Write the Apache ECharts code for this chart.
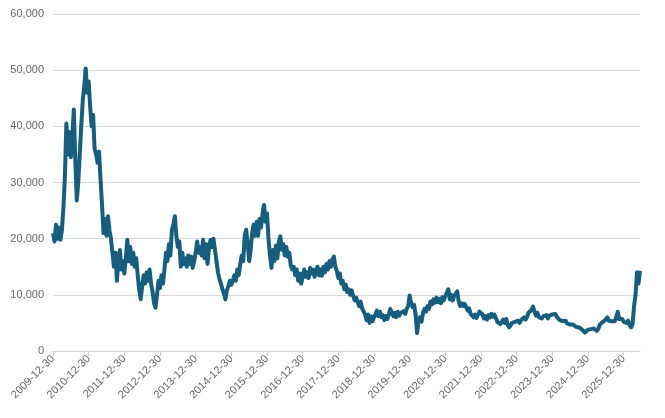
<!DOCTYPE html>
<html>
<head>
<meta charset="utf-8">
<script src="https://cdn.jsdelivr.net/npm/echarts@6/dist/echarts.min.js"></script>
<style>
	html, body { margin: 0; padding: 0; background: #fff; }
	#chart { width: 665px; height: 418px; }
</style>
</head>
<body>
<div id="chart"></div>
<script>
// semimonthly readings, 2009-12-30 .. 2026-06-15
var v2009 = [21000];
var v2010 = [19500, 22500, 20000, 22000, 19800, 21500, 25500, 31000, 40500, 35000, 39000, 34500,
	38000, 43000, 34000, 26800, 30000, 35000, 40000, 44500, 47000, 50300, 46000, 48000];
var v2011 = [43500, 40000, 42000, 36000, 35000, 33500, 35500, 30500, 26000, 21000, 23500, 20500,
	24000, 21500, 20000, 17500, 15000, 17500, 12500, 16000, 18000, 14500, 16000, 13800];
var v2012 = [16500, 19800, 16000, 18500, 15500, 17500, 15000, 16500, 13500, 11000, 9200, 11500,
	13500, 12000, 14000, 12500, 14500, 12000, 10500, 8500, 7700, 10000, 12500, 11200];
var v2013 = [13500, 12000, 14500, 17500, 16000, 19000, 17000, 21500, 22500, 24000, 20500, 18500,
	19500, 15000, 17500, 15500, 16500, 15000, 17000, 15500, 16800, 14800, 16000, 17500];
var v2014 = [19500, 17500, 18500, 17000, 19800, 16500, 19000, 15500, 18500, 19800, 18500, 20000,
	18000, 16000, 14000, 12800, 12000, 11000, 10200, 9200, 10800, 11500, 12500, 11800];
var v2015 = [12500, 13500, 12500, 14500, 13500, 15500, 17000, 16000, 20500, 21600, 19000, 16000,
	18000, 21000, 22500, 20500, 23000, 20500, 23500, 22000, 24500, 26000, 23000, 24500];
var v2016 = [20000, 17000, 14800, 18000, 16000, 18800, 16500, 19500, 20400, 18000, 19000, 17000,
	18500, 16800, 17500, 15200, 14500, 15000, 13500, 14500, 12500, 13800, 12000, 13300];
var v2017 = [14500, 13200, 14000, 13000, 14800, 13800, 14500, 13200, 14200, 15000, 13500, 14500,
	13400, 15000, 14000, 15500, 14500, 16000, 15000, 16300, 16800, 15000, 14200, 13000];
var v2018 = [13800, 12000, 12500, 11000, 11800, 10500, 11000, 10000, 10800, 9800, 9000, 9500,
	8700, 8000, 8800, 7600, 7800, 6500, 5500, 6500, 5000, 6200, 5300, 6000];
var v2019 = [6500, 7200, 6200, 7000, 6000, 6400, 5500, 6200, 5700, 6500, 7500, 6800,
	6200, 6800, 6000, 7000, 6300, 6800, 6500, 7100, 6600, 7500, 8000, 9900];
var v2020 = [8500, 7800, 8200, 6500, 3200, 5500, 6000, 5200, 6800, 7500, 7000, 8000,
	7500, 8800, 8300, 9200, 8600, 9500, 8700, 9300, 8500, 9600, 9000, 9800];
var v2021 = [10000, 11000, 9200, 10000, 9000, 9800, 9500, 10600, 8800, 8000, 8500, 8000,
	8400, 7800, 7200, 7600, 6600, 6800, 6000, 6500, 5900, 6500, 7000, 7300];
var v2022 = [6500, 5800, 6200, 5600, 6400, 6000, 6600, 6100, 6500, 5900, 5200, 5500,
	4800, 5200, 5600, 5000, 5700, 4600, 4200, 4500, 5000, 4700, 5200, 4900];
var v2023 = [5400, 5000, 5500, 5300, 6000, 5600, 6100, 6800, 6500, 7300, 7900, 7000,
	6300, 6800, 6000, 6300, 5800, 6200, 6000, 6400, 5800, 6300, 6000, 6500];
var v2024 = [6200, 6600, 6100, 5800, 5500, 5700, 5300, 5100, 5400, 4900, 5000, 4700,
	4500, 4700, 4400, 4300, 4000, 4200, 3900, 3800, 3500, 3300, 3600, 3800];
var v2025 = [3700, 3900, 3600, 4000, 3800, 3600, 4000, 4700, 4500, 5200, 5000, 5600,
	6000, 5400, 5100, 5300, 5600, 5300, 6000, 7000, 5700, 5400, 5700, 5200];
var v2026 = [5500, 5000, 5400, 4600, 4200, 4800, 8000, 10000, 14000, 12000, 14300];

var values = [].concat(v2009, v2010, v2011, v2012, v2013, v2014, v2015, v2016, v2017,
	v2018, v2019, v2020, v2021, v2022, v2023, v2024, v2025, v2026);

// category labels: the 15th and the 30th (28th in Feb) of every month
var dates = ['2009-12-30'];
for (var y = 2010; dates.length < values.length; y++) {
	for (var m = 1; m <= 12 && dates.length < values.length; m++) {
		var mm = (m < 10 ? '0' : '') + m;
		dates.push(y + '-' + mm + '-15');
		if (dates.length < values.length) dates.push(y + '-' + mm + '-' + (m === 2 ? '28' : '30'));
	}
}

function isYearTick(idx, val) {
	return /-12-30$/.test(val);
}

var chart = echarts.init(document.getElementById('chart'));
chart.setOption({
	animation: false,
	textStyle: { fontFamily: 'Liberation Sans, Arial, sans-serif' },
	grid: { left: 53, right: 25, top: 14, bottom: 67, containLabel: false },
	xAxis: {
		type: 'category',
		boundaryGap: false,
		data: dates,
		axisLine: { lineStyle: { color: '#d0d0d0', width: 1 } },
		axisTick: { interval: isYearTick, length: 5, lineStyle: { color: '#d0d0d0' } },
		axisLabel: { interval: isYearTick, rotate: 45, color: '#666', fontSize: 11, margin: 6 },
		splitLine: { show: false }
	},
	yAxis: {
		type: 'value',
		min: 0,
		max: 60000,
		interval: 10000,
		axisLine: { show: false },
		axisTick: { show: false },
		axisLabel: {
			color: '#666', fontSize: 11, margin: 9,
			formatter: function (v) { return v.toLocaleString('en-US'); }
		},
		splitLine: { lineStyle: { color: '#d9d9d9', width: 1 } }
	},
	series: [{
		type: 'line',
		data: values,
		symbol: 'none',
		lineStyle: { color: '#175e7e', width: 4, join: 'round' },
		itemStyle: { color: '#175e7e' }
	}]
});
</script>
</body>
</html>
